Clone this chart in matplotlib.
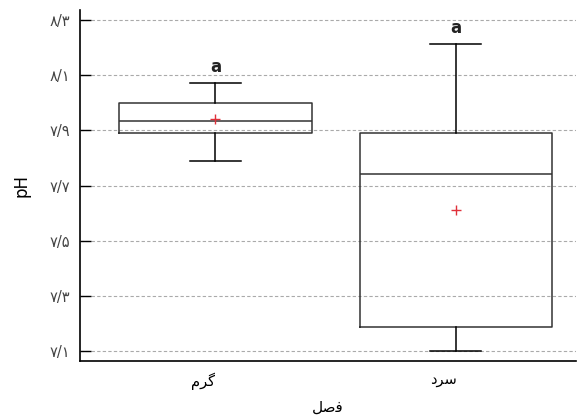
import numpy as np
import matplotlib
matplotlib.use('Agg')
import matplotlib.pyplot as plt
import matplotlib.transforms as mtransforms

plt.rcParams['font.family'] = ['DejaVu Sans']

# seasons (Arabic presentation forms, visual order): warm, cold
seasons = ['\uFEE1\uFEAE\uFB94', '\uFEA9\uFEAE\uFEB3']
xlabel_txt = '\uFEDE\uFEBB\uFED3'

# box statistics (pH)
whislo = [7.79, 7.10]
q1 = [7.891, 7.188]
med = [7.934, 7.740]
q3 = [8.000, 7.889]
whishi = [8.072, 8.212]
means = [7.940, 7.610]
letters = ['a', 'a']

yticks = [7.1, 7.3, 7.5, 7.7, 7.9, 8.1, 8.3]
ytick_labels = ['\u06F7/\u06F1', '\u06F7/\u06F3', '\u06F7/\u06F5', '\u06F7/\u06F7',
                '\u06F7/\u06F9', '\u06F8/\u06F1', '\u06F8/\u06F3']

stats = []
for i in range(len(seasons)):
    stats.append({'whislo': whislo[i], 'q1': q1[i], 'med': med[i], 'q3': q3[i],
                  'whishi': whishi[i], 'mean': means[i], 'fliers': []})

fig = plt.figure(figsize=(5.77, 4.15), dpi=100)
ax = fig.add_axes([0.1386, 0.130, 0.86, 0.846])

ax.bxp(stats, positions=[1, 2], widths=0.8, capwidths=0.21, showmeans=True,
       showfliers=False, patch_artist=False,
       boxprops=dict(color='#333333', linewidth=1.1),
       medianprops=dict(color='#333333', linewidth=1.1),
       whiskerprops=dict(color='black', linewidth=1.1),
       capprops=dict(color='black', linewidth=1.1),
       meanprops=dict(marker='+', markeredgecolor='#e0303a', markersize=6.5,
                      markeredgewidth=1.0))

for i in range(len(seasons)):
    ax.text(i + 1, whishi[i] + 0.025, letters[i], ha='center', va='bottom',
            fontsize=12, fontweight='bold', color='#222222')

ax.set_xlim(0.436, 2.502)
ax.set_ylim(7.064, 8.336)
ax.set_yticks(yticks)
ax.set_yticklabels(ytick_labels, fontsize=10.5, color='#444444')
ax.set_xticks([])

# season names sit a little left of the box centres
trans = ax.get_xaxis_transform() + mtransforms.ScaledTranslation(-12 / 100, 0, fig.dpi_scale_trans)
for i, name in enumerate(seasons):
    ax.text(i + 1, -0.032, name, transform=trans, ha='center', va='top', fontsize=10.5)

ax.tick_params(axis='y', direction='in', length=8, width=1.0, pad=7)
ax.grid(axis='y', linestyle=(0, (3, 2)), color='#aaaaaa', linewidth=0.8)
ax.set_axisbelow(True)

for s in ['top', 'right']:
    ax.spines[s].set_visible(False)
for s in ['left', 'bottom']:
    ax.spines[s].set_linewidth(1.2)

ax.set_ylabel('pH', fontsize=12, labelpad=14)
ax.set_xlabel(xlabel_txt, fontsize=11, labelpad=28)

fig.savefig('out.png', dpi=100)
